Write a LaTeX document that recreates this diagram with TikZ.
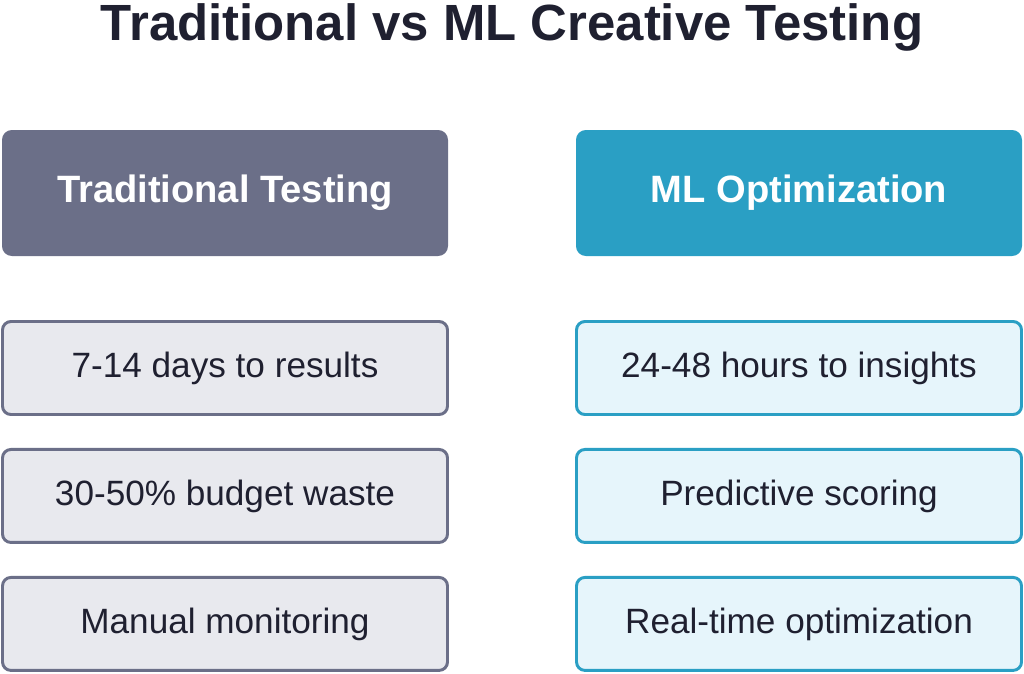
\documentclass[tikz,border=0pt]{standalone}
\usepackage{fontspec}
\setmainfont{Liberation Sans}
\usepackage{xcolor}
\usetikzlibrary{positioning}

\definecolor{slate}{HTML}{6B6F88}
\definecolor{slatebg}{HTML}{E8E9EE}
\definecolor{teal}{HTML}{2A9FC4}
\definecolor{tealbg}{HTML}{E6F5FB}
\definecolor{ink}{HTML}{1F2030}

\tikzset{
	head/.style={rounded corners=7pt, minimum width=446*0.025cm, minimum height=126*0.025cm,
		inner sep=0pt, text=white, font=\fontsize{27.1}{30}\selectfont\bfseries},
	item/.style={draw, rounded corners=6pt, line width=2.1pt, minimum width=445*0.025cm,
		minimum height=93*0.025cm, inner sep=0pt, text=ink, font=\fontsize{25}{28}\selectfont}
}

\begin{document}
\begin{tikzpicture}[x=0.025cm,y=-0.025cm]
	\useasboundingbox (0,0) rectangle (1024,673);
	\node[anchor=base, text=ink, font=\fontsize{36.2}{40}\selectfont\bfseries] (title) at (512,40) {Traditional vs ML Creative Testing};

	\node[head, fill=slate] (trad) at (225,193) {Traditional Testing};
	\node[head, fill=teal] (ml) at (799,193) {ML Optimization};

	\node[item, draw=slate, fill=slatebg] (t1) at (225,368) {7-14 days to results};
	\node[item, draw=slate, fill=slatebg, below=32*0.025cm of t1] (t2) {30-50\% budget waste};
	\node[item, draw=slate, fill=slatebg, below=32*0.025cm of t2] (t3) {Manual monitoring};

	\node[item, draw=teal, fill=tealbg] (m1) at (799,368) {24-48 hours to insights};
	\node[item, draw=teal, fill=tealbg, below=32*0.025cm of m1] (m2) {Predictive scoring};
	\node[item, draw=teal, fill=tealbg, below=32*0.025cm of m2] (m3) {Real-time optimization};
\end{tikzpicture}
\end{document}
